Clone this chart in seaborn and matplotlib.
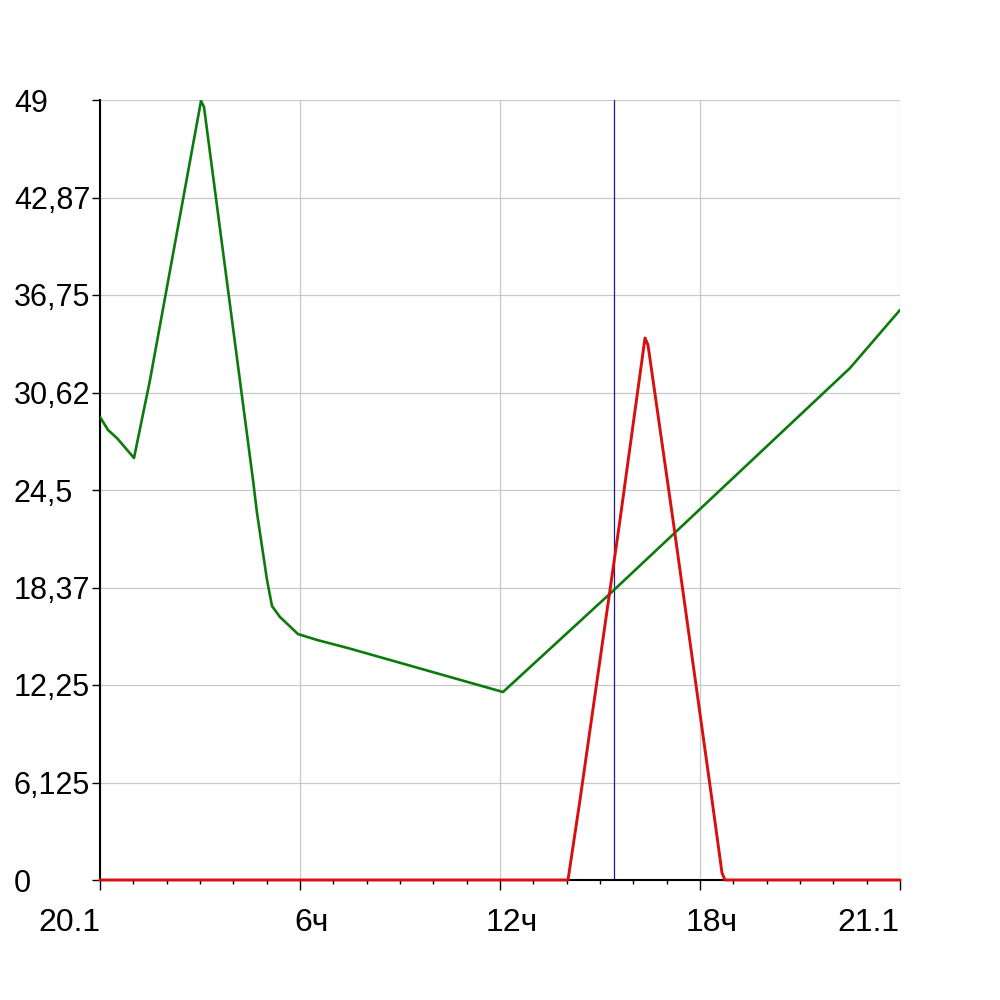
import matplotlib
matplotlib.use('Agg')
import matplotlib.pyplot as plt
import matplotlib.transforms as mtransforms
import seaborn as sns
import pandas as pd

sns.set_style('white')
plt.rcParams['font.family'] = ['Liberation Sans', 'DejaVu Sans']
plt.rcParams['text.color'] = 'black'

# green series (hours since 20.1 00:00, value)
green_hours = [0, 0.24, 0.51, 1.02, 1.5, 3.03, 3.12, 4.59, 4.71, 5.01, 5.16, 5.4,
               5.94, 6.51, 7.44, 12.09, 15.42, 22.5, 24]
green_values = [29.09, 28.27, 27.76, 26.51, 31.41, 48.94, 48.56, 25.13, 23.06, 18.85,
                17.21, 16.52, 15.45, 15.08, 14.57, 11.81, 18.22, 32.16, 35.81]

# red series
red_hours = [0, 14.04, 14.4, 15.6, 16.35, 16.44, 17.19, 18.36, 18.66, 18.75, 24]
red_values = [0, 0, 5.03, 22.62, 34.05, 33.61, 22.62, 5.03, 0.44, 0, 0]

cursor_hour = 15.42

x_ticks = [0, 6, 12, 18, 24]
x_labels = ['20.1', '6ч', '12ч', '18ч', '21.1']
y_ticks = [0, 6.125, 12.25, 18.375, 24.5, 30.625, 36.75, 42.875, 49]
y_labels = ['0', '6,125', '12,25', '18,37', '24,5', '30,62', '36,75', '42,87', '49']

green_df = pd.DataFrame({'hour': green_hours, 'value': green_values})
red_df = pd.DataFrame({'hour': red_hours, 'value': red_values})

fig = plt.figure(figsize=(10, 10), dpi=100)
ax = fig.add_axes([0.1, 0.12, 0.8, 0.78])

sns.lineplot(data=green_df, x='hour', y='value', ax=ax, color='#0c7a0c',
             linewidth=1.9, estimator=None, sort=False, zorder=3)
sns.lineplot(data=red_df, x='hour', y='value', ax=ax, color='#d80f0f',
             linewidth=2.1, estimator=None, sort=False, zorder=4, clip_on=False)
ax.axvline(cursor_hour, color='#1a1a90', linewidth=0.9, zorder=2)

ax.set_xlim(0, 24)
ax.set_ylim(0, 49)
ax.set_xlabel('')
ax.set_ylabel('')

ax.set_xticks(x_ticks)
ax.set_xticklabels(x_labels, fontsize=23)
ax.set_xticks(range(0, 25), minor=True)
ax.set_yticks(y_ticks)
ax.set_yticklabels(y_labels, fontsize=22, ha='left')

ax.grid(True, which='major', color='#c8c8c8', linewidth=0.9)
ax.set_axisbelow(True)

for side in ['top', 'right']:
    ax.spines[side].set_visible(False)
for side in ['left', 'bottom']:
    ax.spines[side].set_color('black')
    ax.spines[side].set_linewidth(1.5)

ax.tick_params(axis='x', which='major', length=7, width=1, color='black', pad=13,
               bottom=True, labelcolor='black')
ax.tick_params(axis='x', which='minor', length=3, width=1, color='black', bottom=True)
ax.tick_params(axis='y', which='major', length=6, width=1, color='black', pad=56,
               left=True, labelcolor='black')

# the outer dates sit to the left of their tick, hour labels slightly right
for lbl in ax.get_xticklabels():
    if lbl.get_text() in ('20.1', '21.1'):
        lbl.set_horizontalalignment('right')
    else:
        lbl.set_transform(lbl.get_transform() + mtransforms.ScaledTranslation(0.12, 0, fig.dpi_scale_trans))

fig.savefig('out.png', dpi=100, facecolor='white')
